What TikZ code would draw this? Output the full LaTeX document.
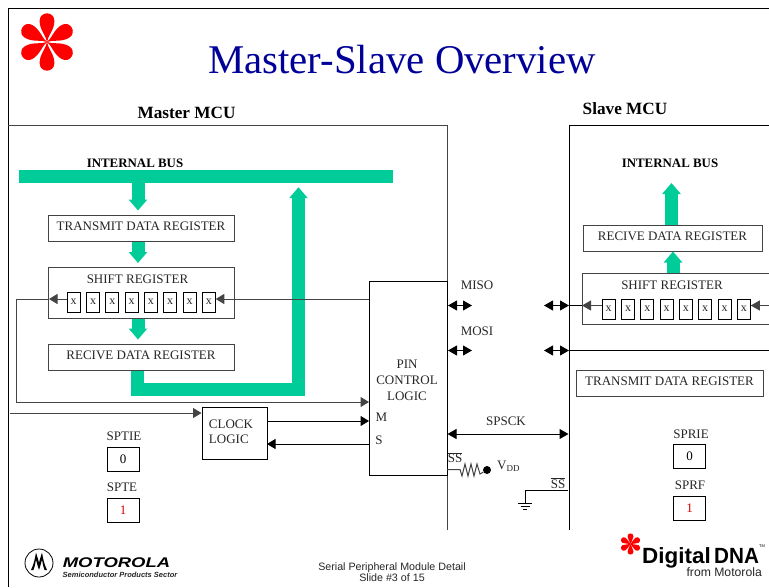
\documentclass[tikz,border=0pt]{standalone}
\usepackage{fontspec}
\setmainfont{Liberation Serif}
\setsansfont{Liberation Sans}
\usetikzlibrary{arrows.meta}
\definecolor{busgreen}{HTML}{00CC99}
\definecolor{titleblue}{HTML}{000099}
\definecolor{logored}{HTML}{FF0000}
\definecolor{edge}{HTML}{444444}
\tikzset{
 lbl/.style={inner sep=0pt,font=\fontsize{13}{15}\selectfont,text=black!85},
 head/.style={inner sep=0pt,font=\bfseries\fontsize{12.9}{14}\selectfont},
 mcu/.style={inner sep=0pt,font=\bfseries\fontsize{17.2}{19}\selectfont},
 reg/.style={draw=edge,line width=1pt,inner sep=0pt,text depth=3pt,font=\fontsize{13}{15}\selectfont,text=black!85},
 cell/.style={draw=black,line width=.9pt,inner sep=0pt,minimum width=13pt,minimum height=20pt,font=\fontsize{12}{12}\selectfont,text=black!85},
 flag/.style={draw=black,line width=1pt,inner sep=0pt,minimum width=32pt,minimum height=24pt,font=\fontsize{13}{15}\selectfont},
 wire/.style={draw=edge,line width=1pt},
 sig/.style={wire,-{Triangle[length=8.5pt,width=10pt]}},
 dbl/.style={wire,{Triangle[length=9pt,width=10pt]}-{Triangle[length=9pt,width=10pt]}},
 flow/.style={draw=busgreen,line width=13pt,-{Triangle[length=11pt,width=18pt]},shorten >=4pt},
 petal/.style={fill=logored},
}
\newcommand{\petalshape}[2]{\fill[petal,shift={(#1)},rotate=#2] (0,0) .. controls (.6,-6) and (7.4,-12) .. (7.4,-21) .. controls (7.4,-31.2) and (-7.4,-31.2) .. (-7.4,-21) .. controls (-7.4,-12) and (-.6,-6) .. (0,0) -- cycle;}
\newcommand{\smallpetal}[2]{\fill[petal,shift={(#1)},rotate=#2] (0,0) .. controls (.3,-2.5) and (3,-4.5) .. (3,-7.5) .. controls (3,-11.6) and (-3,-11.6) .. (-3,-7.5) .. controls (-3,-4.5) and (-.3,-2.5) .. (0,0) -- cycle;}
\begin{document}
\begin{tikzpicture}[x=1pt,y=-1pt]
\useasboundingbox (0,0) rectangle (769,587);
% page frame
\coordinate (ftl) at (8,8);
\draw[black,line width=1pt] (8,587) -- (ftl) -- (769,8);
% logo
\foreach \a in {0,60,...,300} {\petalshape{47,42}{\a}}
\node[inner sep=0pt,text=titleblue,font=\fontsize{40.8}{44}\selectfont] (title) at (402,60) {Master-Slave Overview};
\node[mcu] (mlabel) at (186.5,113) {Master MCU};
\node[mcu] (slabel) at (625,108.5) {Slave MCU};
% MCU outlines
\draw[edge,line width=1pt] (8,125) -- (447,125) -- (447,530);
\draw[black,line width=1pt] (569,530) -- (569,125) -- (769,125);
% master
\node[head] (mbuslbl) at (135,163) {INTERNAL BUS};
\node[fill=busgreen,inner sep=0pt,minimum width=374pt,minimum height=13pt] (bus) at (206,176.5) {};
\node[reg,minimum width=186pt,minimum height=26pt] (tdr) at (141,228) {TRANSMIT DATA REGISTER};
\node[reg,minimum width=186pt,minimum height=51pt,anchor=north] (sr) at (141,267) {};
\node[lbl] (srl) at (137.5,279) {SHIFT REGISTER};
\node[reg,minimum width=186pt,minimum height=26pt] (rdr) at (141,357) {RECIVE DATA REGISTER};
\foreach \i [count=\n] in {73.7,93,112.3,131.6,150.9,170.2,189.5,208.8}
  \node[cell] (c\n) at (\i,302) {x};
\node[reg,draw=black,minimum width=78pt,minimum height=194pt,anchor=north west] (pin) at (369,281) {};
\node[lbl,align=center,font=\fontsize{13}{16}\selectfont] (pint) at (407,380) {PIN\\CONTROL\\LOGIC};
\node[reg,draw=black,minimum width=65pt,minimum height=52pt] (clk) at (234.5,433) {};
\node[lbl,align=left,font=\fontsize{13}{15}\selectfont] (clkt) at (231,432) {CLOCK\\LOGIC};
\node[lbl] (ml) at (381.5,417) {M};
\node[lbl] (sl) at (379,440) {S};
\node[lbl] (sptiel) at (124,436.5) {SPTIE};
\node[flag] (sptie) at (123,459) {0};
\node[lbl] (sptel) at (122,487.5) {SPTE};
\node[flag,text=red!85!black] (spte) at (123,510.5) {1};
% green master flows
\draw[flow] ([xshift=-3pt]tdr.north |- bus.south) -- ([xshift=-3pt]tdr.north);
\draw[flow] ([xshift=-3pt]tdr.south) -- ([xshift=-3pt]sr.north);
\draw[flow] ([xshift=-3pt]sr.south) -- ([xshift=-3pt]rdr.north);
\coordinate (ubot) at (298.5,389.5);
\draw[flow] ([xshift=-3.5pt]rdr.south) |- (ubot) -- (ubot |- bus.south);
% master wires
\coordinate (wl) at (16,299);
\coordinate (wb) at (16,402);
\coordinate (clkin) at (10,413);
\draw[sig] (pin.west |- wl) -- (c8.east |- wl);
\draw[wire,-{Triangle[length=8.5pt,width=10pt]}] (wb) -- (pin.west |- wb);
\draw[wire] (49,299) -- (wl) -- (wb);
\draw[wire,-{Triangle[length=8.5pt,width=10pt]}] (c1.west |- wl) -- (49,299);
\draw[sig] (clkin) -- (clk.west |- clkin);
\draw[sig,black] (267,421) -- (pin.west |- 0,421);
\draw[sig,black] (pin.west |- 0,444) -- (267,444);
% slave
\node[head] (sbuslbl) at (670,163) {INTERNAL BUS};
\node[reg,minimum width=179pt,minimum height=26pt] (srdr) at (672.5,238) {RECIVE DATA REGISTER};
\node[reg,minimum width=187pt,minimum height=51pt,anchor=north west] (ssr) at (582,273) {};
\node[lbl] (ssrl) at (672,285) {SHIFT REGISTER};
\foreach \i [count=\n] in {608.7,628,647.3,666.6,685.9,705.2,724.5,743.8}
  \node[cell] (d\n) at (\i,309) {x};
\node[reg,minimum width=187pt,minimum height=26pt] (stdr) at (669.5,383) {TRANSMIT DATA REGISTER};
\coordinate (stop) at (671.5,183);
\draw[flow,shorten >=0pt] (671.5,225) -- (stop);
\draw[flow,shorten >=0pt] ([xshift=.5pt]ssr.north -| srdr.south) -- ([xshift=.5pt]srdr.south);
\node[lbl] (sprl) at (691,434) {SPRIE};
\node[flag] (sprie) at (689.5,456) {0};
\node[lbl] (spfl) at (690,485) {SPRF};
\node[flag,text=red!85!black] (sprf) at (689.5,508) {1};
% bus signals
\node[lbl] (miso) at (477,285) {MISO};
\node[lbl] (mosi) at (477,331) {MOSI};
\coordinate (ma) at (472,305.5); \coordinate (mb) at (544,305.5);
\coordinate (oa) at (472,350.5); \coordinate (ob) at (544,350.5);
\draw[dbl,black] (448,305.5) -- (ma);
\draw[dbl,black] (mb) -- (569,305.5);
\draw[dbl,black] (448,350.5) -- (oa);
\draw[dbl,black] (ob) -- (569,350.5);
\draw[black,line width=1pt] (569,305.5) -- (ssr.west |- 0,305.5);
\draw[wire,-{Triangle[length=9pt,width=10pt]}] (d1.west |- 0,305.5) -- (ssr.west |- 0,305.5);
\draw[wire,-{Triangle[length=9pt,width=10pt]}] (769,305.5) -- (d8.east |- 0,305.5);
\draw[black,line width=1pt] (569,350.5) -- (769,350.5);
\node[lbl] (spsck) at (506,421) {SPSCK};
\draw[dbl,black] (447.5,434) -- (568.5,434);
% SS and VDD
\node[lbl] (ssa) at (455,457.5) {$\overline{\mbox{SS}}$};
\node[lbl] (ssb) at (558,483) {$\overline{\mbox{SS}}$};
\node[circle,fill=black,inner sep=0pt,minimum size=8pt] (vdd) at (487,470) {};
\draw[edge,line width=1pt] (447,469.5) -- (460,469.5) -- (462,476) -- (465,464) -- (468,476) -- (471,464) -- (474,476) -- (477,464) -- (480,474) -- (vdd);
\node[lbl,anchor=west] (vddl) at (497,466) {V\raisebox{-2pt}{\fontsize{9}{9}\selectfont DD}};
\coordinate (gnd) at (525,503);
\draw[black,line width=1pt] (568,490) -- (525,490) -- (gnd);
\draw[black,line width=1pt] (518,503) -- (532,503);
\draw[black,line width=1pt] (520.5,506) -- (529.5,506);
\draw[black,line width=1pt] (523,509) -- (527,509);
% footer
\node[inner sep=0pt,align=center,font=\sffamily\fontsize{10.7}{11.5}\selectfont,text=black!85] (foot) at (392,572) {Serial Peripheral Module Detail\\Slide \#3 of 15};
% Motorola
\node[circle,draw=black,line width=.8pt,inner sep=0pt,minimum size=28pt] (mot) at (39,563) {};
\fill[black] (31,570) .. controls (34,564) and (35,558) .. (36,552.5) .. controls (37,556) and (38.5,560) .. (39,563) .. controls (39.5,560) and (41,556) .. (42,552.5) .. controls (43,558) and (44,564) .. (47,570) -- (44.5,570) .. controls (43,566) and (42.5,562) .. (42,559.5) .. controls (41.5,562) and (40,567) .. (39,570) .. controls (38,567) and (36.5,562) .. (36,559.5) .. controls (35.5,562) and (35,566) .. (33.5,570) -- cycle;
\node[inner sep=0pt,xscale=1.32,font=\sffamily\bfseries\itshape\fontsize{14}{15}\selectfont] (motname) at (116.5,562.5) {MOTOROLA};
\node[inner sep=0pt,font=\sffamily\bfseries\itshape\fontsize{7.5}{8}\selectfont,text=black!85] (motsub) at (120,574.5) {Semiconductor Products Sector};
% Digital DNA
\foreach \a in {0,60,...,300} {\smallpetal{630.5,544}{\a}}
\node[inner sep=0pt,anchor=base west,xscale=1.02,font=\sffamily\bfseries\fontsize{22}{24}\selectfont] (dig) at (642,563) {Digital};
\node[inner sep=0pt,anchor=base west,xscale=.94,font=\sffamily\bfseries\fontsize{22}{24}\selectfont] (dna) at (714,563) {DNA};
\node[inner sep=0pt,anchor=west,font=\sffamily\fontsize{4}{5}\selectfont] (tm) at (759,546) {TM};
\node[inner sep=0pt,anchor=east,font=\sffamily\fontsize{12.2}{13}\selectfont,text=black!85] (from) at (762,572) {from Motorola};
\end{tikzpicture}
\end{document}
